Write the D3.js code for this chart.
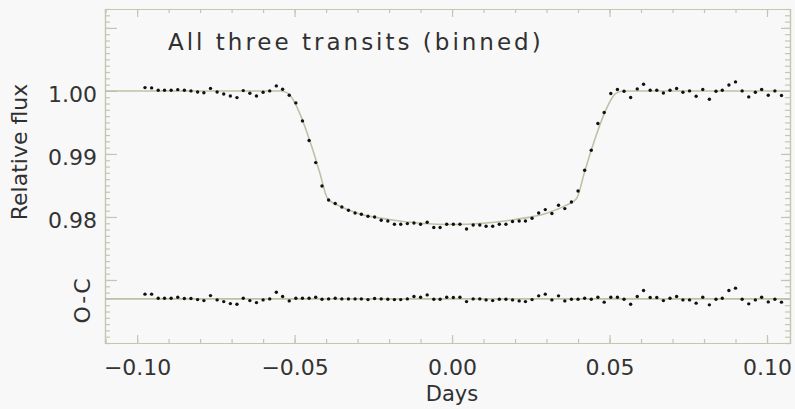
<!DOCTYPE html>
<html>
<head>
<meta charset="utf-8">
<script src="https://cdn.jsdelivr.net/npm/d3@7"></script>
<style>
  body { margin: 0; background: #f8f8f8; }
  svg { display: block; }
  text { font-family: "DejaVu Sans", sans-serif; fill: #303030; }
</style>
</head>
<body>
<div id="graphic"></div>
<script>
// bin centres (days from mid-transit), 3 minute bins
var binTime = [
  -0.0975, -0.0954, -0.0933, -0.0913, -0.0892, -0.0871, -0.0850, -0.0829, -0.0808, -0.0788,
  -0.0767, -0.0746, -0.0725, -0.0704, -0.0683, -0.0663, -0.0642, -0.0621, -0.0600, -0.0579,
  -0.0558, -0.0538, -0.0517, -0.0496, -0.0475, -0.0454, -0.0433, -0.0413, -0.0392, -0.0371,
  -0.0350, -0.0329, -0.0308, -0.0288, -0.0267, -0.0246, -0.0225, -0.0204, -0.0183, -0.0163,
  -0.0142, -0.0121, -0.0100, -0.0079, -0.0058, -0.0038, -0.0017, 0.0004, 0.0025, 0.0046,
  0.0067, 0.0088, 0.0108, 0.0129, 0.0150, 0.0171, 0.0192, 0.0213, 0.0233, 0.0254,
  0.0275, 0.0296, 0.0317, 0.0338, 0.0358, 0.0379, 0.0400, 0.0421, 0.0442, 0.0463,
  0.0483, 0.0504, 0.0525, 0.0546, 0.0567, 0.0588, 0.0608, 0.0629, 0.0650, 0.0671,
  0.0692, 0.0713, 0.0733, 0.0754, 0.0775, 0.0796, 0.0817, 0.0838, 0.0858, 0.0879,
  0.0900, 0.0921, 0.0942, 0.0963, 0.0983, 0.1004, 0.1025, 0.1046
];

// binned relative flux
var binFlux = [
  1.00053, 1.00048, 1.00010, 1.00010, 1.00010, 1.00020, 1.00010, 1.00000, 0.99984, 0.99970,
  1.00040, 0.99984, 0.99952, 0.99920, 0.99894, 1.00005, 0.99963, 0.99920, 0.99980, 1.00000,
  1.00080, 1.00026, 0.99932, 0.99810, 0.99524, 0.99213, 0.98863, 0.98492, 0.98270, 0.98213,
  0.98159, 0.98106, 0.98063, 0.98043, 0.98011, 0.98000, 0.97948, 0.97937, 0.97884, 0.97884,
  0.97895, 0.97905, 0.97884, 0.97916, 0.97832, 0.97832, 0.97884, 0.97884, 0.97884, 0.97810,
  0.97873, 0.97873, 0.97852, 0.97852, 0.97884, 0.97884, 0.97927, 0.97937, 0.97937, 0.97980,
  0.98063, 0.98117, 0.98054, 0.98186, 0.98133, 0.98238, 0.98413, 0.98741, 0.99059, 0.99483,
  0.99657, 0.99959, 1.00022, 0.99995, 0.99895, 1.00032, 1.00106, 1.00011, 1.00011, 0.99968,
  1.00011, 1.00038, 0.99979, 1.00000, 0.99916, 1.00022, 0.99868, 0.99995, 1.00011, 1.00095,
  1.00143, 1.00000, 0.99905, 0.99979, 1.00022, 0.99932, 1.00000, 0.99927
];

// observed minus computed
var binResid = [
  0.00075, 0.00075, 0.00011, 0.00011, 0.00011, 0.00027, 0.00005, 0.00005, -0.00011, -0.00027,
  0.00052, -0.00016, -0.00043, -0.00075, -0.00084, 0.00011, -0.00027, -0.00059, -0.00016, 0.00000,
  0.00106, 0.00037, -0.00032, 0.00011, 0.00011, 0.00011, 0.00027, -0.00005, 0.00000, 0.00011,
  0.00000, 0.00000, 0.00000, 0.00000, -0.00011, 0.00005, 0.00000, -0.00005, -0.00011, -0.00011,
  0.00000, 0.00037, 0.00027, 0.00063, -0.00005, -0.00005, 0.00027, 0.00021, 0.00027, -0.00043,
  0.00000, 0.00000, -0.00016, -0.00027, -0.00005, -0.00005, -0.00016, -0.00032, -0.00043, -0.00011,
  0.00048, 0.00075, -0.00016, 0.00048, -0.00032, -0.00005, -0.00005, 0.00011, -0.00005, 0.00027,
  -0.00052, 0.00027, 0.00027, -0.00005, -0.00084, 0.00037, 0.00132, 0.00021, 0.00021, -0.00027,
  0.00011, 0.00037, -0.00016, -0.00016, -0.00068, 0.00027, -0.00095, -0.00005, 0.00011, 0.00132,
  0.00170, -0.00005, -0.00079, -0.00016, 0.00027, -0.00048, -0.00005, -0.00052
];

// transit model curve
var modelTime = [-0.1102, -0.0545, -0.052, -0.050, -0.048, -0.046, -0.044, -0.042, -0.0395,
  -0.036, -0.030, -0.020, -0.010, 0.000, 0.010, 0.020, 0.030, 0.036, 0.0395, 0.042, 0.044,
  0.046, 0.048, 0.050, 0.052, 0.0545, 0.1073];
var modelFlux = [1.0000, 1.0000, 0.9996, 0.9982, 0.9960, 0.9933, 0.9903, 0.9870, 0.9829,
  0.9818, 0.9806, 0.9796, 0.9790, 0.9788, 0.9790, 0.9796, 0.9806, 0.9818, 0.9829, 0.9870, 0.9903,
  0.9933, 0.9960, 0.9982, 0.9996, 1.0000, 1.0000];

var residOffset = 0.967;

var xMajor = [-0.10, -0.05, 0.00, 0.05, 0.10];
var yLabelled = [0.98, 0.99, 1.00];
var yMajor = [0.97, 0.98, 0.99, 1.00, 1.01];

var width = 795, height = 409;
var plotLeft = 105, plotRight = 790, plotTop = 9, plotBottom = 343;
var axisColor = "#c3c7b2";

var svg = d3.select("#graphic").append("svg")
  .attr("width", width)
  .attr("height", height);

svg.append("rect").attr("width", width).attr("height", height).attr("fill", "#f8f8f8");

var x = d3.scaleLinear().domain([-0.1102, 0.1073]).range([plotLeft, plotRight]);
var y = d3.scaleLinear().domain([0.960, 1.013]).range([plotBottom, plotTop]);

var xMinor = d3.range(-0.11, 0.1075, 0.01);
var yMinor = d3.range(0.960, 1.0131, 0.001);

function styleAxis(g) {
  g.select(".domain").attr("stroke", axisColor).attr("stroke-width", 1.2);
  g.selectAll(".tick line").attr("stroke", axisColor).attr("stroke-width", 1.2);
  g.selectAll(".tick text").style("font-size", "22px").style("font-family", "DejaVu Sans")
    .style("fill", "#333");
}

// bottom axis
svg.append("g")
  .attr("transform", "translate(0," + plotBottom + ")")
  .call(d3.axisBottom(x).tickValues(xMinor).tickSize(-4).tickFormat(""))
  .call(styleAxis);
svg.append("g")
  .attr("transform", "translate(0," + plotBottom + ")")
  .call(d3.axisBottom(x).tickValues(xMajor).tickSizeInner(-8).tickSizeOuter(0)
    .tickPadding(16).tickFormat(d3.format(".2f")))
  .call(styleAxis);

// top axis
svg.append("g")
  .attr("transform", "translate(0," + plotTop + ")")
  .call(d3.axisTop(x).tickValues(xMinor).tickSize(-4).tickFormat(""))
  .call(styleAxis);
svg.append("g")
  .attr("transform", "translate(0," + plotTop + ")")
  .call(d3.axisTop(x).tickValues(xMajor).tickSizeInner(-8).tickSizeOuter(0).tickFormat(""))
  .call(styleAxis);

// left axis
svg.append("g")
  .attr("transform", "translate(" + plotLeft + ",0)")
  .call(d3.axisLeft(y).tickValues(yMinor).tickSize(-5).tickFormat(""))
  .call(styleAxis);
svg.append("g")
  .attr("transform", "translate(" + plotLeft + ",0)")
  .call(d3.axisLeft(y).tickValues(yMajor).tickSizeInner(-12).tickSizeOuter(0).tickPadding(8)
    .tickFormat(function(d) { return yLabelled.indexOf(d) >= 0 ? d3.format(".2f")(d) : ""; }))
  .call(styleAxis)
  .selectAll(".tick text").attr("dy", "0.5em");

// right axis
svg.append("g")
  .attr("transform", "translate(" + plotRight + ",0)")
  .call(d3.axisRight(y).tickValues(yMinor).tickSize(-5).tickFormat(""))
  .call(styleAxis);
svg.append("g")
  .attr("transform", "translate(" + plotRight + ",0)")
  .call(d3.axisRight(y).tickValues(yMajor).tickSizeInner(-9).tickSizeOuter(0).tickFormat(""))
  .call(styleAxis);

// model and zero line for residuals
var model = modelTime.map(function(t, i) { return [t, modelFlux[i]]; });
svg.append("path")
  .datum(model)
  .attr("fill", "none")
  .attr("stroke", "#bcc2a6")
  .attr("stroke-width", 1.6)
  .attr("d", d3.line()
    .x(function(d) { return x(d[0]); })
    .y(function(d) { return y(d[1]); })
    .curve(d3.curveMonotoneX));

svg.append("line")
  .attr("x1", x(x.domain()[0])).attr("x2", x(x.domain()[1]))
  .attr("y1", y(residOffset)).attr("y2", y(residOffset))
  .attr("stroke", "#bcc2a6").attr("stroke-width", 1.6);

// binned data points
svg.selectAll(".flux")
  .data(binTime)
  .enter().append("circle")
  .attr("class", "flux")
  .attr("cx", function(d) { return x(d); })
  .attr("cy", function(d, i) { return y(binFlux[i]); })
  .attr("r", 1.7)
  .attr("fill", "#111");

svg.selectAll(".resid")
  .data(binTime)
  .enter().append("circle")
  .attr("class", "resid")
  .attr("cx", function(d) { return x(d); })
  .attr("cy", function(d, i) { return y(residOffset + binResid[i]); })
  .attr("r", 1.7)
  .attr("fill", "#111");

// labels
svg.append("text")
  .attr("x", 168).attr("y", 50)
  .style("font-size", "23px")
  .style("letter-spacing", "3px")
  .text("All three transits (binned)");

svg.append("text")
  .attr("transform", "translate(27,152) rotate(-90)")
  .attr("text-anchor", "middle")
  .style("font-size", "22px")
  .text("Relative flux");

svg.append("text")
  .attr("transform", "translate(90,300) rotate(-90)")
  .attr("text-anchor", "middle")
  .style("font-size", "22px")
  .style("letter-spacing", "2px")
  .text("O-C");

svg.append("text")
  .attr("x", 452).attr("y", 401)
  .attr("text-anchor", "middle")
  .style("font-size", "21px")
  .text("Days");
</script>
</body>
</html>
